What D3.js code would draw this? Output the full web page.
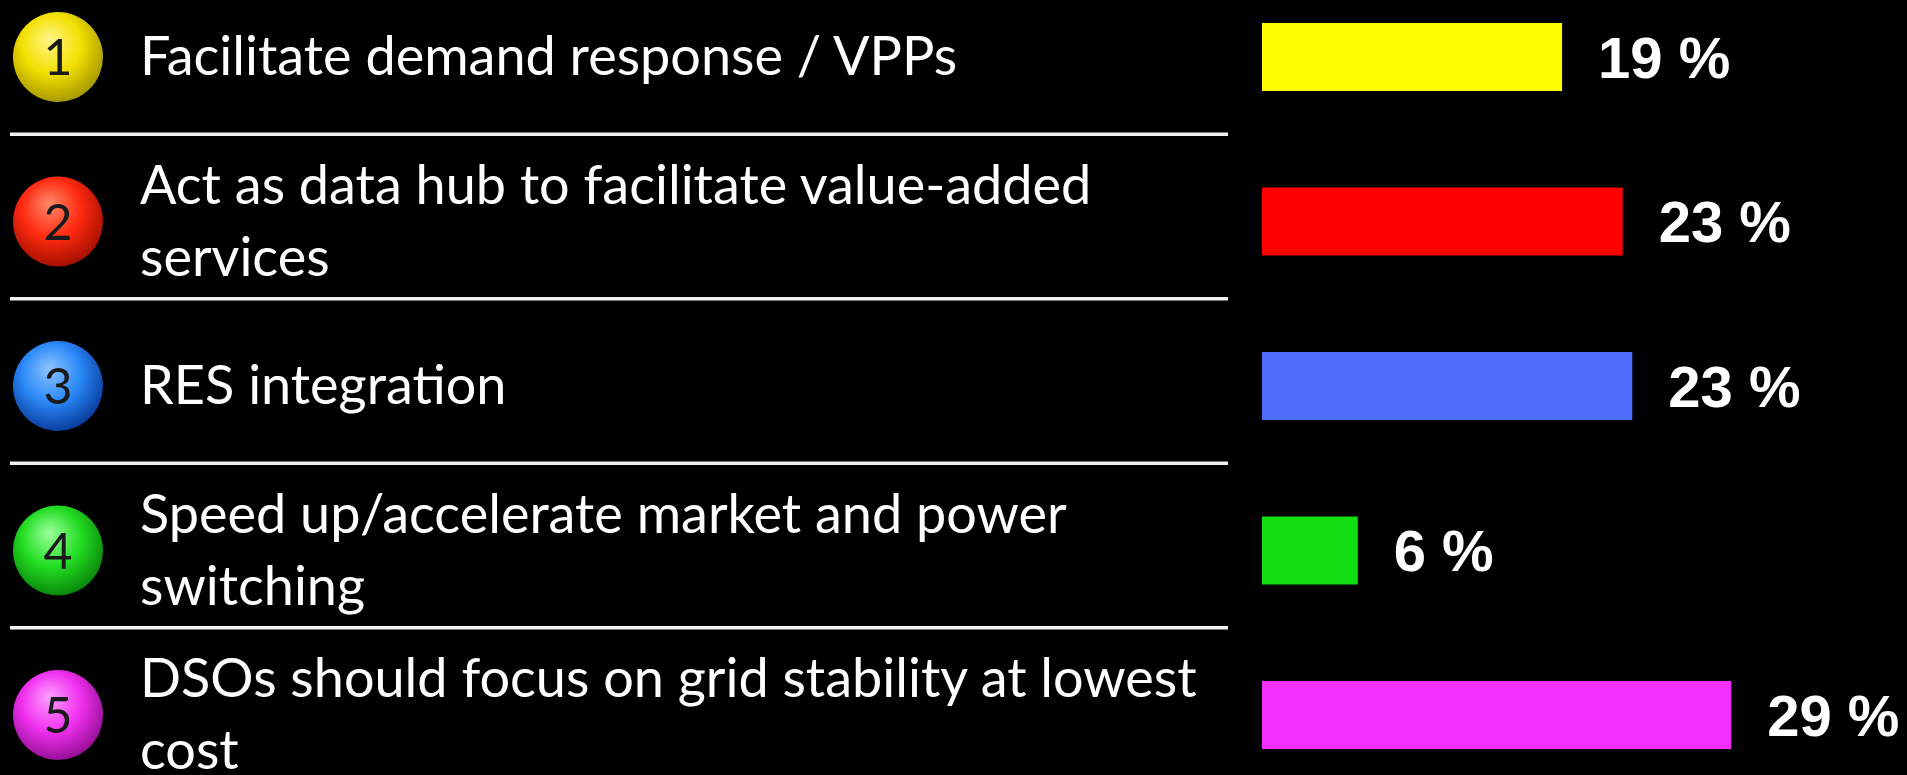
<!DOCTYPE html>
<html>
<head>
<meta charset="utf-8">
<script src="https://cdn.jsdelivr.net/npm/d3@7"></script>
<style>
  html, body { margin: 0; padding: 0; background: #000; overflow: hidden; }
  svg { display: block; }
</style>
</head>
<body>
<svg id="chart" width="1907" height="775"></svg>
<script>
// ---- data ----
const categories = [
  ["Facilitate demand response / VPPs"],
  ["Act as data hub to facilitate value-added", "services"],
  ["RES integration"],
  ["Speed up/accelerate market and power", "switching"],
  ["DSOs should focus on grid stability at lowest", "cost"]
];
const numbers = ["1", "2", "3", "4", "5"];
const values = [18.8, 22.6, 23.2, 6.0, 29.4];   // bar lengths
const valueLabels = ["19 %", "23 %", "23 %", "6 %", "29 %"];
const barColors = ["#ffff00", "#ff0000", "#4f6dfb", "#11dd11", "#f22ffd"];
const ballColors = [
  ["#fff68a", "#f3e000", "#a89a00"],
  ["#ff8a6a", "#ff2a10", "#a81000"],
  ["#8cc4ff", "#2a88f8", "#0a3fa0"],
  ["#9dff9d", "#22dd22", "#0a8a0a"],
  ["#ffa0ff", "#f030f0", "#9a109a"]
];

// ---- layout ----
const svg = d3.select("#chart");
const idx = d3.range(categories.length);

const y = d3.scalePoint().domain(idx).range([57, 715]);
const x = d3.scaleLinear().domain([0, 1]).range([1262, 1262 + 15.96]);

const defs = svg.append("defs");
idx.forEach(i => {
  const g = defs.append("radialGradient")
    .attr("id", "ball" + i)
    .attr("cx", "45%").attr("cy", "40%").attr("r", "60%")
    .attr("fx", "40%").attr("fy", "30%");
  g.append("stop").attr("offset", "0%").attr("stop-color", ballColors[i][0]);
  g.append("stop").attr("offset", "55%").attr("stop-color", ballColors[i][1]);
  g.append("stop").attr("offset", "100%").attr("stop-color", ballColors[i][2]);
});

// separators
const seps = d3.pairs(idx);
svg.append("g").selectAll("line").data(seps).join("line")
  .attr("x1", 10).attr("x2", 1228)
  .attr("y1", d => (y(d[0]) + y(d[1])) / 2 - 5)
  .attr("y2", d => (y(d[0]) + y(d[1])) / 2 - 5)
  .attr("stroke", "#f2f2f2").attr("stroke-width", 3.5);

// balls
const balls = svg.append("g").selectAll("g").data(idx).join("g")
  .attr("transform", i => `translate(58,${y(i)})`);
balls.append("circle").attr("r", 45).attr("fill", i => `url(#ball${i})`);
balls.append("text")
  .attr("text-anchor", "middle").attr("dy", "0.36em")
  .attr("font-family", "Lato, 'Open Sans', sans-serif")
  .attr("font-size", 50)
  .attr("fill", "#1a1a1a")
  .text(i => numbers[i]);

// labels
const lineGap = 72;
const lbl = svg.append("g").selectAll("text").data(idx).join("text")
  .attr("x", 140)
  .attr("font-family", "Lato, 'Open Sans', sans-serif")
  .attr("font-size", 54)
  .attr("fill", "#ffffff");
lbl.each(function(i) {
  const lines = categories[i];
  const n = lines.length;
  const base = y(i) + 18 - (n - 1) * lineGap / 2;
  d3.select(this).selectAll("tspan").data(lines).join("tspan")
    .attr("x", 140)
    .attr("y", (d, k) => base + k * lineGap)
    .text(d => d);
});

// bars
svg.append("g").selectAll("rect").data(idx).join("rect")
  .attr("x", x(0))
  .attr("y", i => y(i) - 34)
  .attr("width", i => x(values[i]) - x(0))
  .attr("height", 68)
  .attr("fill", i => barColors[i]);

// value labels
svg.append("g").selectAll("text").data(idx).join("text")
  .attr("x", i => x(values[i]) + 36)
  .attr("y", i => y(i))
  .attr("dy", "0.36em")
  .attr("font-family", "'Liberation Sans', Arial, sans-serif")
  .attr("font-weight", "bold")
  .attr("font-size", 58)
  .attr("fill", "#ffffff")
  .text(i => valueLabels[i]);
</script>
</body>
</html>
